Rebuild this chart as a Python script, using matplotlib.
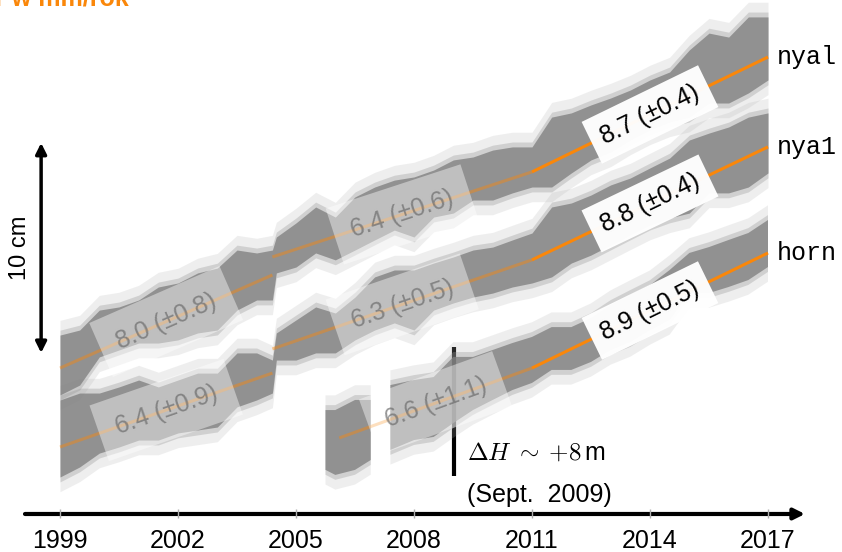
import numpy as np
import matplotlib.pyplot as plt

plt.rcParams['font.family'] = ['Liberation Sans', 'DejaVu Sans']
plt.rcParams['mathtext.fontset'] = 'cm'

ORANGE = '#fa870a'
CLOUD = '#808080'

# x axis years shown
YEARS = [1999, 2002, 2005, 2008, 2011, 2014, 2017]

# GNSS height clouds (mm, arbitrary offset)
# dense core upper / lower edge at sample epochs
nyal_t = [1999.0, 1999.5, 2000.0, 2000.5, 2001.0, 2001.5, 2002.0, 2002.5, 2003.0, 2003.5,
          2004.0, 2004.4, 2004.5, 2005.0, 2005.5, 2006.0, 2006.5, 2007.0, 2007.5, 2008.0,
          2008.5, 2009.0, 2009.5, 2010.0, 2010.5, 2011.0, 2011.5, 2012.0, 2012.5, 2013.0,
          2013.5, 2014.0, 2014.5, 2015.0, 2015.5, 2016.0, 2016.5, 2017.0]
nyal_hi = [85.2, 87.6, 97.1, 98.6, 101.9, 108.1, 110.0, 114.8, 117.1, 125.7,
           124.3, 125.7, 131.9, 138.6, 146.2, 141.4, 151.0, 155.7, 159.0, 160.5,
           163.8, 168.6, 170.0, 173.3, 174.8, 174.8, 189.0, 191.0, 194.8, 198.1,
           201.9, 206.7, 210.5, 221.0, 229.0, 227.1, 236.7, 236.7]
nyal_lo = [56.7, 61.4, 74.8, 78.1, 81.4, 81.4, 82.9, 86.2, 87.6, 97.1,
           101.9, 101.9, 114.8, 117.6, 124.3, 121.0, 125.7, 130.5, 135.2, 131.9,
           141.4, 143.3, 149.5, 149.5, 152.9, 155.7, 155.7, 162.4, 168.6, 172.4,
           178.1, 182.9, 186.7, 189.0, 195.7, 195.7, 200.5, 206.7]

nya1_t = nyal_t
nya1_hi = [54.3, 57.6, 57.6, 60.5, 63.8, 60.5, 63.8, 67.1, 67.1, 76.7,
           76.7, 73.3, 86.2, 92.4, 98.6, 95.7, 103.3, 112.9, 116.2, 116.2,
           119.5, 122.4, 125.7, 127.1, 130.5, 133.8, 146.2, 148.1, 151.9, 156.7,
           160.0, 164.8, 169.5, 178.1, 181.4, 184.3, 189.0, 191.0]
nya1_lo = [17.6, 22.4, 29.0, 31.9, 35.2, 35.2, 38.6, 40.0, 41.4, 51.0,
           54.3, 57.6, 73.3, 73.3, 76.7, 76.7, 82.9, 87.6, 91.0, 87.6,
           97.1, 100.5, 103.3, 105.2, 108.1, 110.0, 112.9, 119.5, 123.3, 128.1,
           132.9, 137.6, 141.0, 143.3, 152.9, 152.9, 155.7, 162.4]

horn_t = [2005.75, 2006.0, 2006.5, 2006.9, 2007.1, 2007.4, 2008.0, 2008.5, 2009.0, 2009.5,
          2010.0, 2010.5, 2011.0, 2011.5, 2012.0, 2012.5, 2013.0, 2013.5, 2014.0, 2014.5,
          2015.0, 2015.5, 2016.0, 2016.5, 2017.0]
horn_hi = [49.5, 49.5, 54.3, 54.3, np.nan, 61.4, 63.8, 65.2, 74.8, 74.8,
           78.1, 81.4, 84.3, 89.0, 89.0, 93.3, 99.5, 104.3, 109.0, 116.2,
           124.3, 127.1, 130.5, 133.8, 140.0]
horn_lo = [21.0, 18.6, 21.0, 25.7, np.nan, 30.5, 35.2, 36.7, 43.3, 49.5,
           54.3, 59.0, 62.4, 68.6, 68.6, 72.4, 78.1, 81.9, 87.6, 92.4,
           105.2, 105.2, 108.1, 111.4, 117.6]

SPREAD = 7.0  # sparse points reach about this far beyond the core (mm)

# piecewise trends: segment breaks, start / end heights, rate labels (mm/yr)
nyal_breaks = [1999.0, 2004.4, 2011.0, 2017.0]
nyal_start = [69.5, 122.4, 162.9]
nyal_end = [113.8, 162.9, 217.6]
nyal_rates = ['8.0 (±0.8)', '6.4 (±0.6)', '8.7 (±0.4)']

nya1_breaks = [1999.0, 2004.4, 2011.0, 2017.0]
nya1_start = [31.9, 78.6, 121.0]
nya1_end = [67.1, 121.0, 174.8]
nya1_rates = ['6.4 (±0.9)', '6.3 (±0.5)', '8.8 (±0.4)']

horn_breaks = [2006.1, 2011.0, 2017.0]
horn_start = [36.2, 69.5]
horn_end = [69.5, 124.3]
horn_rates = ['6.6 (±1.1)', '8.9 (±0.5)']

stations = [
    ('nyal', nyal_t, nyal_hi, nyal_lo, nyal_breaks, nyal_start, nyal_end, nyal_rates),
    ('nya1', nya1_t, nya1_hi, nya1_lo, nya1_breaks, nya1_start, nya1_end, nya1_rates),
    ('horn', horn_t, horn_hi, horn_lo, horn_breaks, horn_start, horn_end, horn_rates),
]

fig = plt.figure(figsize=(8.42, 5.52), dpi=100)
ax = fig.add_axes([0, 0, 1, 1])
ax.set_xlim(1997.4746, 2018.8814)
ax.set_ylim(-18.1, 244.76)
ax.axis('off')

for name, t, hi, lo, br, y0, y1, rates in stations:
    t = np.array(t)
    hi = np.array(hi, dtype=float)
    lo = np.array(lo, dtype=float)
    # sparse outliers, then a softer rim, then the dense core
    ax.fill_between(t, lo - SPREAD, hi + SPREAD, color='#b4b4b4', alpha=0.22, lw=0, zorder=1)
    ax.fill_between(t, lo - SPREAD / 3, hi + SPREAD / 3, color='#9a9a9a', alpha=0.35, lw=0, zorder=1.5)
    ax.fill_between(t, lo, hi, color=CLOUD, alpha=0.78, lw=0, zorder=2)

    for i, rate in enumerate(rates):
        ta, tb = br[i], br[i + 1]
        old = tb <= 2011
        ax.plot([ta, tb], [y0[i], y1[i]], color=ORANGE, lw=2.2,
                alpha=0.45 if old else 1.0, solid_capstyle='butt', zorder=3)
        p0 = ax.transData.transform((ta, y0[i]))
        p1 = ax.transData.transform((tb, y1[i]))
        ang = np.degrees(np.arctan2(p1[1] - p0[1], p1[0] - p0[0]))
        if old:
            col = (0.42, 0.42, 0.42, 0.7)
            box = dict(boxstyle='square,pad=0.7', facecolor='white', alpha=0.42, edgecolor='none')
        else:
            col = 'black'
            box = dict(boxstyle='square,pad=0.45', facecolor='white', alpha=0.97, edgecolor='none')
        ax.text((ta + tb) / 2, (y0[i] + y1[i]) / 2, rate, rotation=ang,
                rotation_mode='anchor', ha='center', va='center', fontsize=18,
                color=col, bbox=box, zorder=4)

    ax.text(2017.23, y1[-1], name, family=['Liberation Mono', 'DejaVu Sans Mono'],
            fontsize=18, ha='left', va='center')

# time axis
ax.annotate('', xy=(2017.94, 0), xytext=(1998.11, 0),
            arrowprops=dict(arrowstyle='-|>', lw=3, color='black',
                            mutation_scale=16, shrinkA=0, shrinkB=0), zorder=6)
ax.vlines(YEARS, -2.0, 2.4, color='#b0b0b0', lw=1, zorder=7)
for yr in YEARS:
    ax.text(yr, -12.9, str(yr), fontsize=18, ha='center', va='center')

# 10 cm scale bar
ax.annotate('', xy=(1998.52, 176.7), xytext=(1998.52, 76.7),
            arrowprops=dict(arrowstyle='<|-|>', lw=2.5, color='black',
                            mutation_scale=16, shrinkA=0, shrinkB=0))
ax.text(1997.98, 126.7, '10 cm', rotation=90, fontsize=17, ha='center', va='center')

# antenna height change at horn
ax.vlines(2009.02, 18.1, 79.5, color='black', lw=3, zorder=0.5)
ax.text(2009.35, 29.0, r'$\Delta H\;\sim\;{+}8\,$m', fontsize=18, ha='left', va='center')
ax.text(2009.35, 9.0, '(Sept.  2009)', fontsize=18, ha='left', va='center')

# title cropped at the top edge, as in the source slide
fig.text(-5 / 842, 1 - 6 / 552, 'r w mm/rok', color=ORANGE, fontsize=18,
         fontweight='bold', ha='left', va='baseline')

fig.savefig('out.png', dpi=100)
